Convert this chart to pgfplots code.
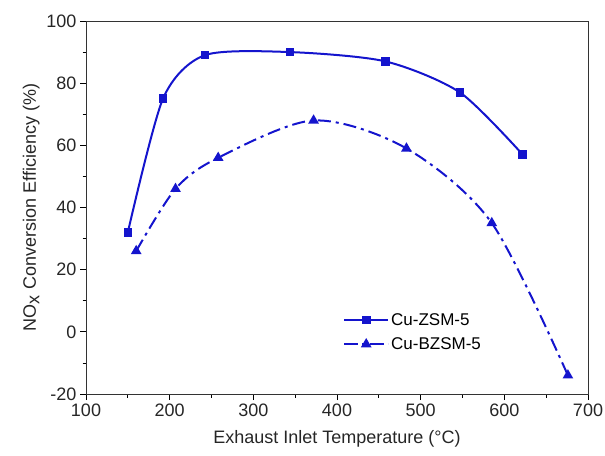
\documentclass[border=0pt]{standalone}
\usepackage{fontspec}
\setmainfont{Liberation Sans}
\usepackage{pgfplots}
\usetikzlibrary{calc}
\pgfplotsset{compat=1.18}
\definecolor{cblue}{RGB}{20,20,205}
\begin{document}
\begin{tikzpicture}[x=1pt,y=1pt]
\begin{axis}[
  scale only axis,
  width=502pt, height=373pt,
  xmin=100, xmax=700, ymin=-20, ymax=100,
  xtick={100,200,...,700}, ytick={-20,0,...,100},
  minor x tick num=1, minor y tick num=1,
  tick pos=left, tick align=outside,
  major tick length=6pt, minor tick length=3.5pt,
  every tick/.style={black, line width=0.8pt},
  axis line style={black!80, line width=0.9pt},
  /pgf/number format/assume math mode=true,
  tick label style={font=\fontsize{18}{20}\selectfont, text=black!85},
  label style={font=\fontsize{18}{20}\selectfont, text=black!85},
  xlabel={Exhaust Inlet Temperature (\textdegree C)},
  ylabel={NO$_{\textrm{x}}$ Conversion Efficiency (\%)},
  xlabel style={yshift=-7pt},
  ylabel style={yshift=0pt},
  legend style={draw=none, fill=none, at={(0.508,0.228)}, anchor=north west,
    font=\fontsize{17}{21}\selectfont, row sep=7pt, inner xsep=2pt},
  legend cell align=left,
  legend image code/.code={
    \draw[#1, mark repeat=2, mark phase=2] plot coordinates {(0pt,0pt) (22pt,0pt) (44pt,0pt)};
  },
]
\addplot[cblue, line width=2pt, smooth, tension=0.45, mark=square*, mark size=3.3pt, mark options={solid}]
coordinates {(150,32) (192,75) (242,89) (344,90) (458,87) (547,77) (622,57)};
\addlegendentry{Cu-ZSM-5}
\addplot[cblue, line width=2pt, smooth, tension=0.5, dash pattern=on 13pt off 5pt on 3pt off 5pt, mark=triangle*, mark size=4.2pt, mark options={solid}]
coordinates {(160,26) (207,46) (258,56) (372,68) (483,59) (585,35) (676,-14)};
\addlegendentry{Cu-BZSM-5}
\end{axis}
\pgfresetboundingbox
\useasboundingbox ($(current axis.south west)+(-86pt,-61pt)$) rectangle ($(current axis.north east)+(17pt,21pt)$);
\end{tikzpicture}
\end{document}
